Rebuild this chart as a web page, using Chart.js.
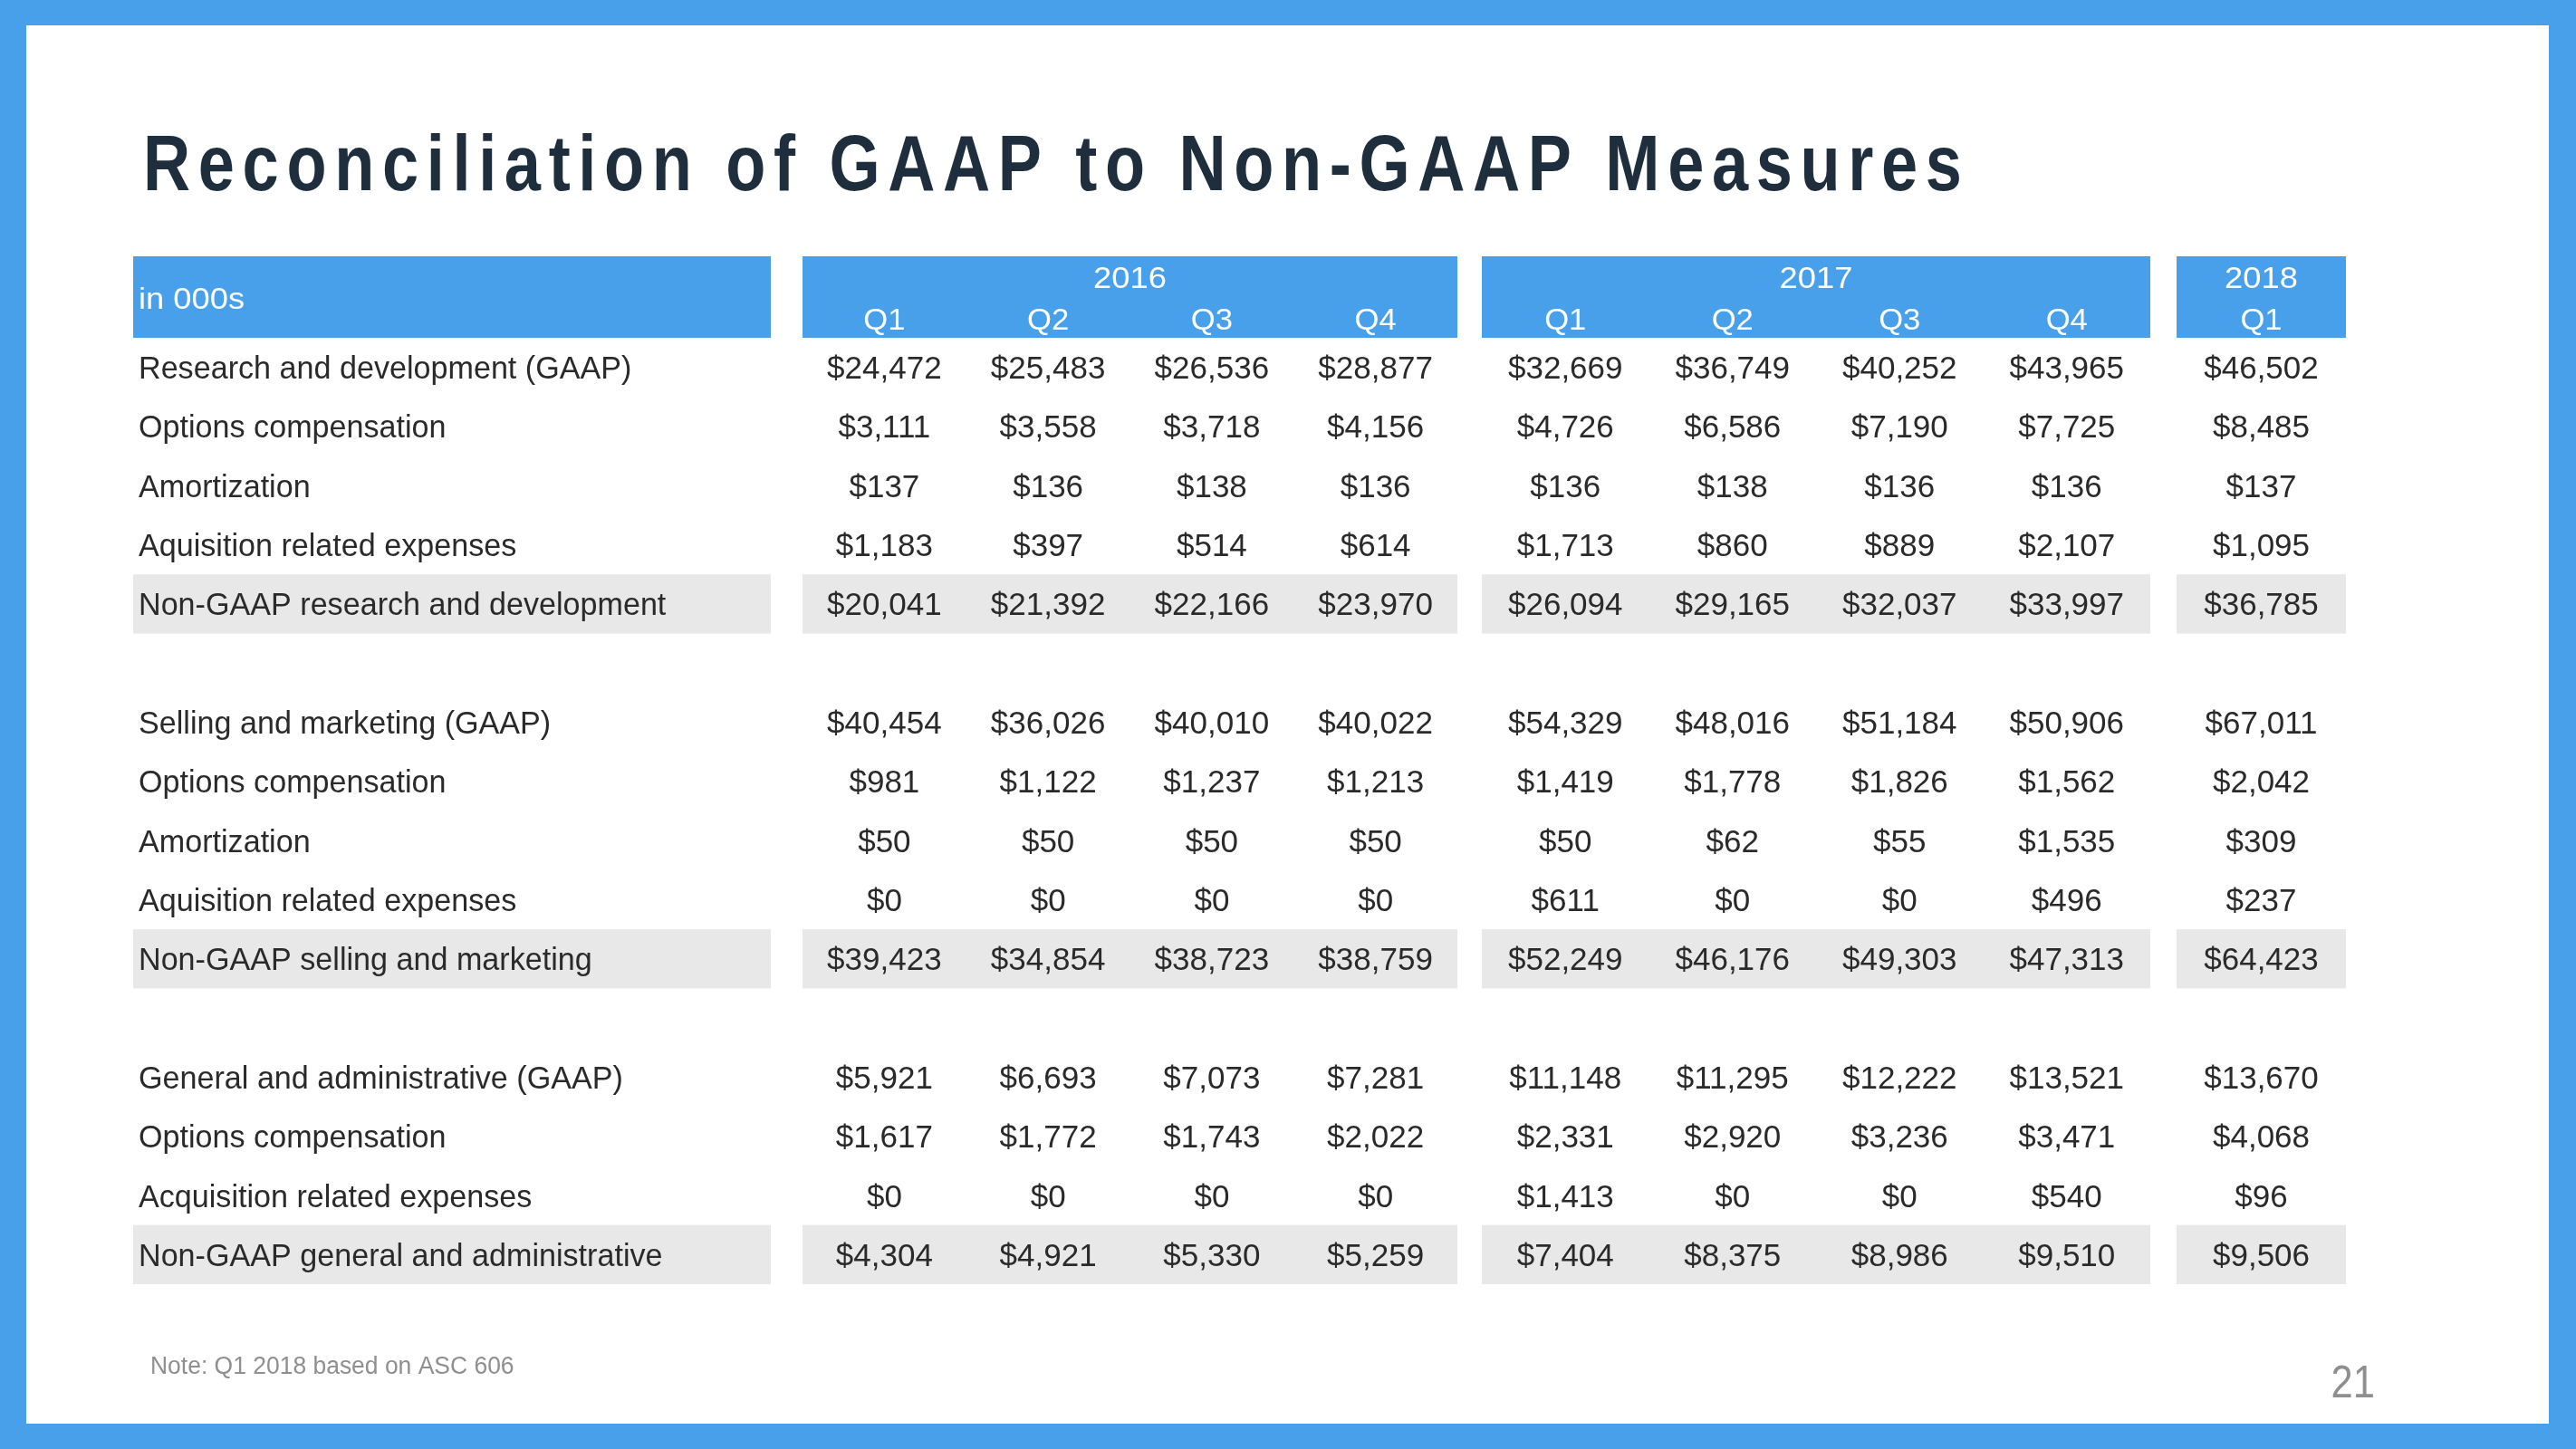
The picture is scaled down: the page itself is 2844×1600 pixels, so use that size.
<!DOCTYPE html>
<html>
<head>
<meta charset="utf-8">
<title>Reconciliation of GAAP to Non-GAAP Measures</title>
<script src="https://cdn.jsdelivr.net/npm/chart.js@4.4.0/dist/chart.umd.min.js"></script>
<style>
html,body{margin:0;padding:0;background:#489fea;overflow:hidden;}
canvas{display:block;}
</style>
</head>
<body>
<canvas id="mycanvas" width="2844" height="1600"></canvas>
<script>
// ---- data (in 000s) ----
var years = ['2016', '2017', '2018'];
var quarters = ['Q1', 'Q2', 'Q3', 'Q4', 'Q1', 'Q2', 'Q3', 'Q4', 'Q1'];
var periodYear = [0, 0, 0, 0, 1, 1, 1, 1, 2];

var rdGaap    = [24472, 25483, 26536, 28877, 32669, 36749, 40252, 43965, 46502];
var rdOptions = [3111, 3558, 3718, 4156, 4726, 6586, 7190, 7725, 8485];
var rdAmort   = [137, 136, 138, 136, 136, 138, 136, 136, 137];
var rdAcq     = [1183, 397, 514, 614, 1713, 860, 889, 2107, 1095];
var rdNonGaap = [20041, 21392, 22166, 23970, 26094, 29165, 32037, 33997, 36785];

var smGaap    = [40454, 36026, 40010, 40022, 54329, 48016, 51184, 50906, 67011];
var smOptions = [981, 1122, 1237, 1213, 1419, 1778, 1826, 1562, 2042];
var smAmort   = [50, 50, 50, 50, 50, 62, 55, 1535, 309];
var smAcq     = [0, 0, 0, 0, 611, 0, 0, 496, 237];
var smNonGaap = [39423, 34854, 38723, 38759, 52249, 46176, 49303, 47313, 64423];

var gaGaap    = [5921, 6693, 7073, 7281, 11148, 11295, 12222, 13521, 13670];
var gaOptions = [1617, 1772, 1743, 2022, 2331, 2920, 3236, 3471, 4068];
var gaAcq     = [0, 0, 0, 0, 1413, 0, 0, 540, 96];
var gaNonGaap = [4304, 4921, 5330, 5259, 7404, 8375, 8986, 9510, 9506];

// one entry per table row, '' = spacer row
var rowLabels = [
  'Research and development (GAAP)', 'Options compensation', 'Amortization',
  'Aquisition related expenses', 'Non-GAAP research and development', '',
  'Selling and marketing (GAAP)', 'Options compensation', 'Amortization',
  'Aquisition related expenses', 'Non-GAAP selling and marketing', '',
  'General and administrative (GAAP)', 'Options compensation',
  'Acquisition related expenses', 'Non-GAAP general and administrative'
];
var rowValues = [rdGaap, rdOptions, rdAmort, rdAcq, rdNonGaap, null,
  smGaap, smOptions, smAmort, smAcq, smNonGaap, null,
  gaGaap, gaOptions, gaAcq, gaNonGaap];
var totalRows = [4, 10, 15];

var headLabel = 'in 000s';
var titleText = 'Reconciliation of GAAP to Non-GAAP Measures';
var noteText = 'Note: Q1 2018 based on ASC 606';
var pageNum = '21';

// ---- layout (table units on the x scale, rows on the y scale) ----
var labelBox = [0, 704];
var yearBox = [[739, 1462], [1489, 2227], [2256, 2443]];
var headTop = -1.378;

var BLUE = '#489fea';
var GREY = '#e8e8e8';
var INK = '#2a2a2a';
var FONT = '"Liberation Sans", Arial, sans-serif';

function colCenter(i) {
  var b = periodYear[i];
  var first = periodYear.indexOf(b);
  var n = periodYear.filter(function(p){ return p === b; }).length;
  var w = (yearBox[b][1] - yearBox[b][0]) / n;
  return yearBox[b][0] + w * (i - first + 0.5);
}

function money(v) {
  return '$' + v.toLocaleString('en-US');
}

var datasets = [];
for (var r in rowValues) {
  if (!rowValues[r]) continue;
  (function(r){
    datasets.push({
      label: rowLabels[r],
      data: rowValues[r].map(function(v, i){ return {x: colCenter(i), y: +r + 0.5, v: v}; }),
      pointRadius: 0,
      showLine: false
    });
  })(r);
}

// text squeezed/stretched horizontally by sx
function txt(ctx, s, x, y, sx) {
  ctx.save();
  ctx.translate(x, y);
  ctx.scale(sx, 1);
  ctx.fillText(s, 0, 0);
  ctx.restore();
}

var tablePlugin = {
  id: 'tablePlugin',
  beforeDraw: function(chart) {
    var ctx = chart.ctx;
    ctx.save();
    ctx.fillStyle = BLUE;
    ctx.fillRect(0, 0, chart.width, chart.height);
    ctx.fillStyle = '#ffffff';
    ctx.fillRect(29, 28, 2814 - 29, 1572 - 28);

    // title: narrow letters, wide tracking
    var sx = 0.82;
    ctx.fillStyle = '#1f2e3d';
    ctx.font = 'bold 88px ' + FONT;
    ctx.textBaseline = 'alphabetic';
    ctx.textAlign = 'left';
    var plain = ctx.measureText(titleText).width * sx;
    var gap = (2166 - 158 - plain) / (titleText.length - 1);
    var tx = 158;
    for (var c = 0; c < titleText.length; c++) {
      txt(ctx, titleText[c], tx, 210, sx);
      tx += ctx.measureText(titleText[c]).width * sx + gap;
    }

    ctx.fillStyle = '#8f8f8f';
    ctx.font = '27px ' + FONT;
    txt(ctx, noteText, 166, 1517, 0.98);
    ctx.font = '50px ' + FONT;
    ctx.textAlign = 'right';
    txt(ctx, pageNum, 2622, 1543, 0.87);
    ctx.restore();
  },
  beforeDatasetsDraw: function(chart) {
    var ctx = chart.ctx, xs = chart.scales.x, ys = chart.scales.y;
    var boxes = [labelBox].concat(yearBox);
    ctx.save();
    ctx.fillStyle = BLUE;
    var h0 = ys.getPixelForValue(headTop), h1 = ys.getPixelForValue(0);
    boxes.forEach(function(b){
      var x0 = xs.getPixelForValue(b[0]), x1 = xs.getPixelForValue(b[1]);
      ctx.fillRect(x0, h0, x1 - x0, h1 - h0);
    });
    ctx.fillStyle = GREY;
    totalRows.forEach(function(r){
      var y0 = ys.getPixelForValue(r), y1 = ys.getPixelForValue(r + 1);
      boxes.forEach(function(b){
        var x0 = xs.getPixelForValue(b[0]), x1 = xs.getPixelForValue(b[1]);
        ctx.fillRect(x0, y0, x1 - x0, y1 - y0);
      });
    });
    ctx.restore();
  },
  afterDatasetsDraw: function(chart) {
    var ctx = chart.ctx, xs = chart.scales.x, ys = chart.scales.y;
    ctx.save();
    ctx.textBaseline = 'alphabetic';

    // header
    ctx.fillStyle = '#ffffff';
    ctx.font = '33px ' + FONT;
    ctx.textAlign = 'left';
    txt(ctx, headLabel, xs.getPixelForValue(labelBox[0]) + 6, ys.getPixelForValue(-0.49), 1.1);
    ctx.textAlign = 'center';
    years.forEach(function(y, b){
      var cx = xs.getPixelForValue((yearBox[b][0] + yearBox[b][1]) / 2);
      txt(ctx, y, cx, ys.getPixelForValue(-0.842), 1.1);
    });
    quarters.forEach(function(q, i){
      txt(ctx, q, xs.getPixelForValue(colCenter(i)), ys.getPixelForValue(-0.138), 1.05);
    });

    // row labels
    ctx.fillStyle = INK;
    ctx.font = '35px ' + FONT;
    ctx.textAlign = 'left';
    rowLabels.forEach(function(l, r){
      if (!l) return;
      txt(ctx, l, xs.getPixelForValue(labelBox[0]) + 6, ys.getPixelForValue(r + 0.5) + 12.5, 0.975);
    });

    // values, placed at the dataset points
    ctx.textAlign = 'center';
    chart.data.datasets.forEach(function(ds, d){
      var meta = chart.getDatasetMeta(d);
      meta.data.forEach(function(pt, i){
        txt(ctx, money(ds.data[i].v), pt.x, pt.y + 12.5, 1);
      });
    });
    ctx.restore();
  }
};

var ctx = document.getElementById('mycanvas');
var table = new Chart(ctx, {
  type: 'scatter',
  data: {datasets: datasets},
  options: {
    responsive: false,
    animation: false,
    events: [],
    layout: {padding: {left: 147, right: 2844 - 2590, top: 283, bottom: 1600 - 1418}},
    plugins: {legend: {display: false}, tooltip: {enabled: false}, title: {display: false}},
    scales: {
      x: {type: 'linear', display: false, min: labelBox[0], max: yearBox[2][1]},
      y: {type: 'linear', display: false, min: headTop, max: rowLabels.length, reverse: true}
    }
  },
  plugins: [tablePlugin]
});
</script>
</body>
</html>
